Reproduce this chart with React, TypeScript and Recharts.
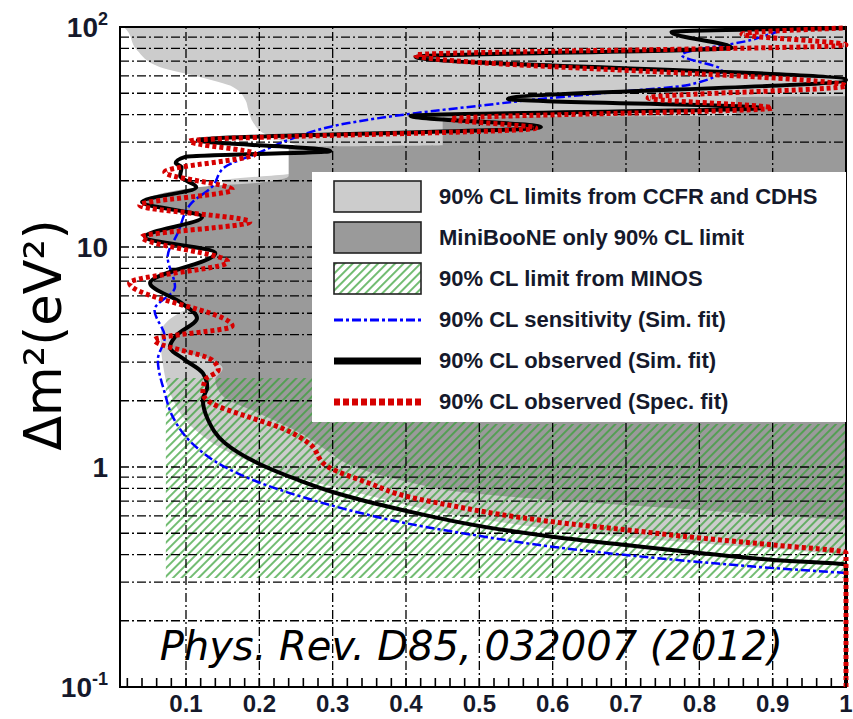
import {
  Area,
  ComposedChart,
  Legend,
  Line,
  ReferenceArea,
  ReferenceDot,
  ReferenceLine,
  XAxis,
  YAxis,
} from "recharts";

const W = 853;
const H = 719;

const INK = "#15192b";
const LIGHT = "#cccccc";
const DARK = "#9a9a9a";
const GREEN = "#36a036";
const BLUE = "#0000ff";
const RED = "#d60000";
const SANS = "'Liberation Sans', Arial, sans-serif";

// [Δm² (eV²), x]
type Pt = [number, number];

const xTicks = [
  0.02, 0.04, 0.06, 0.08, 0.1, 0.12, 0.14, 0.16, 0.18, 0.2, 0.22, 0.24, 0.26,
  0.28, 0.3, 0.32, 0.34, 0.36, 0.38, 0.4, 0.42, 0.44, 0.46, 0.48, 0.5, 0.52,
  0.54, 0.56, 0.58, 0.6, 0.62, 0.64, 0.66, 0.68, 0.7, 0.72, 0.74, 0.76, 0.78,
  0.8, 0.82, 0.84, 0.86, 0.88, 0.9, 0.92, 0.94, 0.96, 0.98, 1,
];
const xLabels = ["0.1", "0.2", "0.3", "0.4", "0.5", "0.6", "0.7", "0.8", "0.9", "1"];
const xGrid = [0.1, 0.2, 0.3, 0.4, 0.5, 0.6, 0.7, 0.8, 0.9];

const yTicks = [
  0.1, 0.2, 0.3, 0.4, 0.5, 0.6, 0.7, 0.8, 0.9, 1, 2, 3, 4, 5, 6, 7, 8, 9, 10,
  20, 30, 40, 50, 60, 70, 80, 90, 100,
];
const yGrid = [
  0.2, 0.3, 0.4, 0.5, 0.6, 0.7, 0.8, 0.9, 1, 2, 3, 4, 5, 6, 7, 8, 9, 10, 20,
  30, 40, 50, 60, 70, 80, 90,
];
const yLabels: { value: number; base: string; exp?: string }[] = [
  { value: 0.1, base: "10", exp: "-1" },
  { value: 1, base: "1" },
  { value: 10, base: "10" },
  { value: 100, base: "10", exp: "2" },
];

// left edge of the CCFR / CDHS excluded band
const ccfrCdhs: Pt[] = [
  [0.4, 1.0], [0.425, 0.9], [0.48, 0.7], [0.58, 0.5], [0.74, 0.35], [0.9, 0.25],
  [1.12, 0.17], [1.5, 0.11], [2.1, 0.08], [3.0, 0.068], [4.0, 0.065], [5.0, 0.09],
  [6.0, 0.15], [20, 0.15], [22, 0.26], [29, 0.25], [30.6, 0.228], [33, 0.205],
  [36.6, 0.192], [42, 0.185], [46.6, 0.181], [53.4, 0.164], [59.2, 0.119],
  [65.8, 0.064], [78.6, 0.033], [96.9, 0.019], [100, 0.015],
];

// left edge of the MiniBooNE only excluded band
const miniboone: Pt[] = [
  [0.574, 1.0], [0.638, 0.8], [0.708, 0.6], [0.762, 0.487], [0.86, 0.4], [1.0, 0.33],
  [1.2, 0.29], [1.4, 0.26], [1.75, 0.2], [2.1, 0.15], [2.5, 0.14], [2.8, 0.15],
  [3.07, 0.135], [3.51, 0.08], [3.94, 0.088], [4.76, 0.117], [5.56, 0.096],
  [6.86, 0.053], [9.39, 0.142], [11.1, 0.046], [13.7, 0.124], [16.0, 0.042],
  [18.7, 0.116], [19.6, 0.2], [21, 0.24], [28.5, 0.24], [29, 0.45], [39, 0.45],
  [39.5, 0.85], [48, 0.85], [48.5, 1.0],
];

// MINOS: [Δm², x from, x to]
const minos: [number, number, number][] = [
  [0.313, 0.0725, 1.0],
  [1.57, 0.0725, 1.0],
  [1.57, 0.0725, 0.5],
  [2.54, 0.0725, 0.5],
];

const sensitivity: Pt[] = [
  [0.33, 1.0], [0.347, 0.9015], [0.37, 0.8], [0.398, 0.7], [0.433, 0.602],
  [0.481, 0.509], [0.556, 0.399], [0.638, 0.3215], [0.731, 0.2585], [0.855, 0.198],
  [1.0, 0.153], [1.285, 0.108], [1.69, 0.082], [2.17, 0.071], [3.07, 0.0616],
  [3.9, 0.071], [5.17, 0.057], [6.58, 0.085], [9.01, 0.075], [11.6, 0.089],
  [15.9, 0.108], [18.7, 0.135], [23.1, 0.153], [26.7, 0.198], [30.6, 0.239],
  [36.6, 0.3215], [40.6, 0.413], [44.2, 0.509], [46.6, 0.57], [50.6, 0.684],
  [54.5, 0.785], [63.8, 0.83], [74.6, 0.776], [87.3, 0.871], [96.9, 0.912],
];

const observedSim: Pt[] = [
  [0.1, 1.0], [0.359, 1.0], [0.378, 0.9015], [0.407, 0.8], [0.442, 0.7],
  [0.481, 0.602], [0.533, 0.509], [0.638, 0.395], [0.77, 0.3], [0.873, 0.253],
  [1.04, 0.198], [1.285, 0.153], [1.64, 0.13], [2.02, 0.123], [2.31, 0.129],
  [2.67, 0.123], [3.07, 0.0985], [3.51, 0.078], [3.94, 0.086], [4.76, 0.115],
  [5.56, 0.094], [6.86, 0.051], [9.39, 0.14], [11.1, 0.044], [13.7, 0.122],
  [16.0, 0.04], [18.7, 0.114], [21.0, 0.092], [23.1, 0.094], [24.1, 0.086],
  [25.7, 0.099], [27.3, 0.297], [30.6, 0.116], [35.1, 0.584], [39.4, 0.406],
  [42.8, 0.885], [47.1, 0.539], [57.4, 1.0], [73.1, 0.413], [80.3, 0.844],
  [94.9, 0.762], [99.0, 1.0],
];

const observedSpec: Pt[] = [
  [0.1, 1.0], [0.407, 1.0], [0.442, 0.9015], [0.476, 0.8], [0.518, 0.7],
  [0.5625, 0.602], [0.624, 0.509], [0.672, 0.458], [0.731, 0.404], [0.846, 0.349],
  [1.0, 0.294], [1.285, 0.267], [1.5, 0.231], [1.69, 0.185], [1.95, 0.135],
  [2.17, 0.123], [2.49, 0.126], [2.76, 0.144], [3.07, 0.135], [3.78, 0.057],
  [4.37, 0.163], [6.86, 0.023], [8.55, 0.157], [11.1, 0.04], [13.0, 0.187],
  [15.5, 0.037], [18.2, 0.163], [21.9, 0.071], [26.5, 0.194], [30.3, 0.105],
  [34.7, 0.577], [38.2, 0.461], [42.8, 0.899], [47.6, 0.73], [53.9, 1.0],
  [74.6, 0.413], [82.8, 1.0], [92.9, 0.858], [99.0, 1.0],
];

const legendLabels = [
  "90% CL limits from CCFR and CDHS",
  "MiniBooNE only 90% CL limit",
  "90% CL limit from MINOS",
  "90% CL sensitivity (Sim. fit)",
  "90% CL observed (Sim. fit)",
  "90% CL observed (Spec. fit)",
];

const citation = "Phys. Rev. D85, 032007 (2012)";

const rows = (pts: Pt[]) => pts.map(([dm2, s]) => ({ dm2, s }));
const minosRows = minos.map(([dm2, lo, hi]) => ({ dm2, lo, hi }));

const GRID_DASH = "9 3 2 3";
const TICK_GAP = 4;

function XTick({ x, y, payload }: any) {
  const v = payload.value as number;
  const i = Math.round(v * 10) - 1;
  const major = Math.abs(v * 10 - Math.round(v * 10)) < 1e-6;
  return (
    <g>
      <line
        x1={x}
        x2={x}
        y1={y - TICK_GAP}
        y2={y - TICK_GAP - 9}
        stroke="#000"
        strokeWidth={1.6}
      />
      {major && (
        <text
          x={x}
          y={y + 21}
          textAnchor="middle"
          fontSize={24}
          fontWeight="bold"
          fontFamily={SANS}
          fill={INK}
        >
          {xLabels[i]}
        </text>
      )}
    </g>
  );
}

function YTick({ x, y, payload }: any) {
  const lab = yLabels.find((l) => Math.abs(l.value - payload.value) < 1e-9);
  if (!lab) return <g />;
  return (
    <text
      x={x}
      y={y + 10}
      textAnchor="end"
      fontSize={28}
      fontWeight="bold"
      fontFamily={SANS}
      fill={INK}
    >
      <tspan>{lab.base}</tspan>
      {lab.exp && (
        <tspan dy={-12} fontSize={18}>
          {lab.exp}
        </tspan>
      )}
    </text>
  );
}

function YTitle({ viewBox }: any) {
  const cx = viewBox.x + 41;
  const cy = viewBox.y + viewBox.height / 2 - 22;
  return (
    <text
      x={cx}
      y={cy}
      transform={`rotate(-90, ${cx}, ${cy})`}
      textAnchor="middle"
      fontSize={51}
      fontFamily="'DejaVu Sans', sans-serif"
      fill="#000"
    >
      Δm²(eV²)
    </text>
  );
}

function Citation({ viewBox }: any) {
  const cx = viewBox.x + viewBox.width / 2;
  const cy = viewBox.y + viewBox.height / 2;
  return (
    <text
      x={cx}
      y={cy}
      textAnchor="middle"
      dominantBaseline="central"
      fontSize={40}
      fontStyle="italic"
      fontFamily="'DejaVu Sans', sans-serif"
      fill="#000"
    >
      {citation}
    </text>
  );
}

function Hatch({ id, width }: { id: string; width: number }) {
  return (
    <pattern
      id={id}
      patternUnits="userSpaceOnUse"
      width={6}
      height={6}
      patternTransform="rotate(45)"
    >
      <line x1={3} y1={0} x2={3} y2={6} stroke={GREEN} strokeWidth={width} />
    </pattern>
  );
}

function Swatch({ index }: { index: number }) {
  const box = (fill: string) => (
    <rect x={1} y={1} width={87} height={31} fill={fill} stroke="#222" strokeWidth={1.6} />
  );
  return (
    <svg width={90} height={34} style={{ display: "block" }}>
      <defs>
        <Hatch id="legendHatch" width={1.4} />
      </defs>
      {index === 0 && box(LIGHT)}
      {index === 1 && box(DARK)}
      {index === 2 && box("url(#legendHatch)")}
      {index === 3 && (
        <line x1={1} x2={88} y1={17} y2={17} stroke={BLUE} strokeWidth={3} strokeDasharray="9 3 3 3" />
      )}
      {index === 4 && <line x1={1} x2={88} y1={17} y2={17} stroke="#000" strokeWidth={7} />}
      {index === 5 && (
        <line x1={1} x2={88} y1={17} y2={17} stroke={RED} strokeWidth={7} strokeDasharray="6 3" />
      )}
    </svg>
  );
}

function LegendBox() {
  return (
    <div
      style={{
        background: "#fff",
        width: "100%",
        height: "100%",
        boxSizing: "border-box",
        paddingTop: 4,
        paddingLeft: 21,
      }}
    >
      {legendLabels.map((label, i) => (
        <div key={label} style={{ display: "flex", alignItems: "center", height: 41 }}>
          <Swatch index={i} />
          <span
            style={{
              marginLeft: 16,
              fontFamily: SANS,
              fontWeight: "bold",
              fontSize: 22,
              color: INK,
              whiteSpace: "nowrap",
            }}
          >
            {label}
          </span>
        </div>
      ))}
    </div>
  );
}

export default function App() {
  return (
    <div style={{ position: "absolute", left: 0, top: 0, width: W, height: H, background: "#fff" }}>
      <ComposedChart
        width={W}
        height={H}
        layout="vertical"
        margin={{ top: 27, right: 7, bottom: 2, left: 20 }}
      >
        <defs>
          <Hatch id="minosHatch" width={1.4} />
        </defs>
        <XAxis
          type="number"
          domain={[0.01, 1]}
          ticks={xTicks}
          interval={0}
          height={30}
          tickSize={0}
          tickMargin={TICK_GAP}
          axisLine={false}
          tick={<XTick />}
        />
        <YAxis
          type="number"
          dataKey="dm2"
          scale="log"
          domain={[0.1, 100]}
          reversed
          ticks={yTicks}
          interval={0}
          width={100}
          tickSize={0}
          tickMargin={12}
          axisLine={false}
          tick={<YTick />}
          label={<YTitle />}
        />
        <Area
          data={rows(ccfrCdhs)}
          dataKey="s"
          baseValue={1}
          type="monotone"
          fill={LIGHT}
          fillOpacity={1}
          stroke="none"
          isAnimationActive={false}
          zIndex={101}
        />
        <Area
          data={rows(miniboone)}
          dataKey="s"
          baseValue={1}
          type="monotone"
          fill={DARK}
          fillOpacity={1}
          stroke="none"
          isAnimationActive={false}
          zIndex={102}
        />
        <Area
          data={minosRows}
          dataKey={(d: any) => [d.lo, d.hi]}
          type="linear"
          fill="url(#minosHatch)"
          fillOpacity={1}
          stroke="none"
          isAnimationActive={false}
          zIndex={103}
        />
        {xGrid.map((v) => (
          <ReferenceLine
            key={`gx${v}`}
            x={v}
            stroke="#000"
            strokeWidth={1.3}
            strokeDasharray={GRID_DASH}
            zIndex={104}
          />
        ))}
        {yGrid.map((v) => (
          <ReferenceLine
            key={`gy${v}`}
            y={v}
            stroke="#000"
            strokeWidth={1.3}
            strokeDasharray={GRID_DASH}
            zIndex={104}
          />
        ))}
        <ReferenceArea
          x1={0.01}
          x2={1}
          y1={0.1}
          y2={100}
          fill="none"
          fillOpacity={0}
          stroke="#000"
          strokeWidth={2}
          zIndex={105}
        />
        <Line
          data={rows(sensitivity)}
          dataKey="s"
          type="monotone"
          stroke={BLUE}
          strokeWidth={2.5}
          strokeDasharray="9 3 3 3"
          dot={false}
          activeDot={false}
          isAnimationActive={false}
          zIndex={401}
        />
        <Line
          data={rows(observedSim)}
          dataKey="s"
          type="monotone"
          stroke="#000"
          strokeWidth={4}
          dot={false}
          activeDot={false}
          isAnimationActive={false}
          zIndex={402}
        />
        <Line
          data={rows(observedSpec)}
          dataKey="s"
          type="monotone"
          stroke={RED}
          strokeWidth={5}
          strokeDasharray="4 3"
          dot={false}
          activeDot={false}
          isAnimationActive={false}
          zIndex={403}
        />
        <ReferenceDot
          x={0.489}
          y={0.154}
          r={1}
          fill="none"
          stroke="none"
          label={<Citation />}
          zIndex={405}
        />
        <Legend
          layout="horizontal"
          align="center"
          verticalAlign="middle"
          content={() => <LegendBox />}
          wrapperStyle={{ left: 312, top: 172, width: 534, height: 250 }}
        />
      </ComposedChart>
    </div>
  );
}
